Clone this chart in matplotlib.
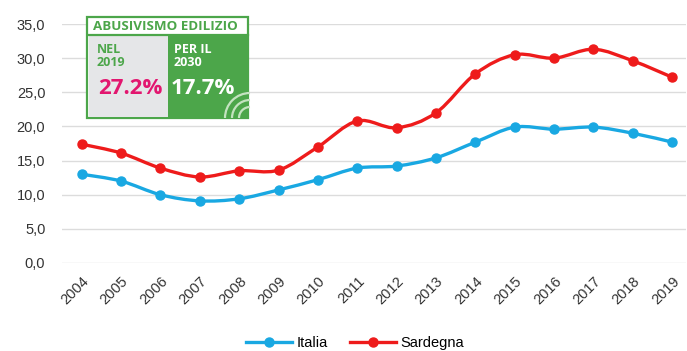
import numpy as np
import matplotlib.pyplot as plt
from matplotlib.path import Path
from matplotlib.patches import PathPatch, Rectangle, Arc
from matplotlib.lines import Line2D

years = list(range(2004, 2020))
italia = [13.0, 12.0, 10.0, 9.1, 9.4, 10.7, 12.2, 13.9, 14.2, 15.4, 17.7, 19.9, 19.6, 19.9, 19.0, 17.7]
sardegna = [17.4, 16.1, 13.9, 12.6, 13.5, 13.6, 17.0, 20.8, 19.8, 22.0, 27.7, 30.5, 30.0, 31.3, 29.6, 27.2]
yticks = [0, 5, 10, 15, 20, 25, 30, 35]

BLUE = "#19a8e2"
RED = "#ee1b1b"
GREEN = "#4ca64a"
PINK = "#e2166f"

plt.rcParams["font.family"] = ["Liberation Sans", "DejaVu Sans"]


def smooth_path(x, y, t=1 / 6):
    # Catmull-Rom style bezier through the points (like Excel smoothed lines)
    x = np.asarray(x, float)
    y = np.asarray(y, float)
    px = np.concatenate([[x[0]], x, [x[-1]]])
    py = np.concatenate([[y[0]], y, [y[-1]]])
    verts = [(x[0], y[0])]
    codes = [Path.MOVETO]
    for i in range(1, len(x)):
        c1 = (px[i] + (px[i + 1] - px[i - 1]) * t, py[i] + (py[i + 1] - py[i - 1]) * t)
        c2 = (px[i + 1] - (px[i + 2] - px[i]) * t, py[i + 1] - (py[i + 2] - py[i]) * t)
        verts += [c1, c2, (x[i], y[i])]
        codes += [Path.CURVE4] * 3
    return Path(verts, codes)


fig = plt.figure(figsize=(6.87, 3.51), dpi=100)
ax = fig.add_axes([62 / 687, 88 / 351, 624 / 687, 239 / 351])

for vals, color in [(italia, BLUE), (sardegna, RED)]:
    ax.add_patch(PathPatch(smooth_path(years, vals), facecolor="none",
                           edgecolor=color, lw=2.4, zorder=3))
    ax.plot(years, vals, linestyle="none", marker="o", markersize=6.5,
            color=color, zorder=4)

ax.set_xlim(2003.5, 2019.35)
ax.set_ylim(0, 35)
ax.set_yticks(yticks)
ax.set_yticklabels([f"{v:.1f}".replace(".", ",") for v in yticks])
ax.set_xticks(years)
ax.set_xticklabels([str(y) for y in years], rotation=45, ha="right",
                   rotation_mode="anchor")
ax.tick_params(length=0, labelsize=10.5, colors="#333333", pad=8)
ax.tick_params(axis="y", pad=12)
ax.grid(axis="y", color="#dcdcdc", lw=1)
ax.set_axisbelow(True)
for s in ax.spines.values():
    s.set_visible(False)

handles = [Line2D([], [], color=BLUE, lw=2.4, marker="o", markersize=6.5),
           Line2D([], [], color=RED, lw=2.4, marker="o", markersize=6.5)]
fig.legend(handles, ["Italia", "Sardegna"], loc="center", ncol=2,
           bbox_to_anchor=(355 / 687, 1 - 343 / 351), frameon=False,
           fontsize=10.5, handlelength=3.2, columnspacing=1.5, handletextpad=0.3)

# inset box drawn in pixel coordinates (y from top)
ov = fig.add_axes([0, 0, 1, 1], zorder=10)
ov.axis("off")
ov.add_patch(Rectangle((87, 17), 161, 101, facecolor="white", edgecolor=GREEN, lw=1.6))
ov.add_patch(Rectangle((88.5, 35), 79.5, 82, facecolor="#e5e6e8", edgecolor="none"))
ov.add_patch(Rectangle((168, 35), 79, 82, facecolor=GREEN, edgecolor="none"))
ov.plot([88, 248], [35, 35], color=GREEN, lw=1.6)
for r in [11, 18, 25]:
    ov.add_patch(Arc((250, 118), 2 * r, 2 * r, theta1=180, theta2=270,
                     color="#c4e3c0", lw=1.6))
ov.set_xlim(0, 687)
ov.set_ylim(351, 0)

fam = ["Open Sans", "DejaVu Sans"]
ov.text(93, 27, "ABUSIVISMO EDILIZIO", color=GREEN, fontsize=9.6,
        fontweight="bold", family=fam, va="center")
ov.text(97, 56, "NEL\n2019", color=GREEN, fontsize=9, fontweight="bold",
        family=fam, va="center", linespacing=1.05)
ov.text(174, 56, "PER IL\n2030", color="white", fontsize=9, fontweight="bold",
        family=fam, va="center", linespacing=1.05)
ov.text(98, 88, "27.2%", color=PINK, fontsize=16, fontweight="bold",
        family=fam, va="center")
ov.text(171, 88, "17.7%", color="white", fontsize=16, fontweight="bold",
        family=fam, va="center")

fig.savefig("out.png", dpi=100)
